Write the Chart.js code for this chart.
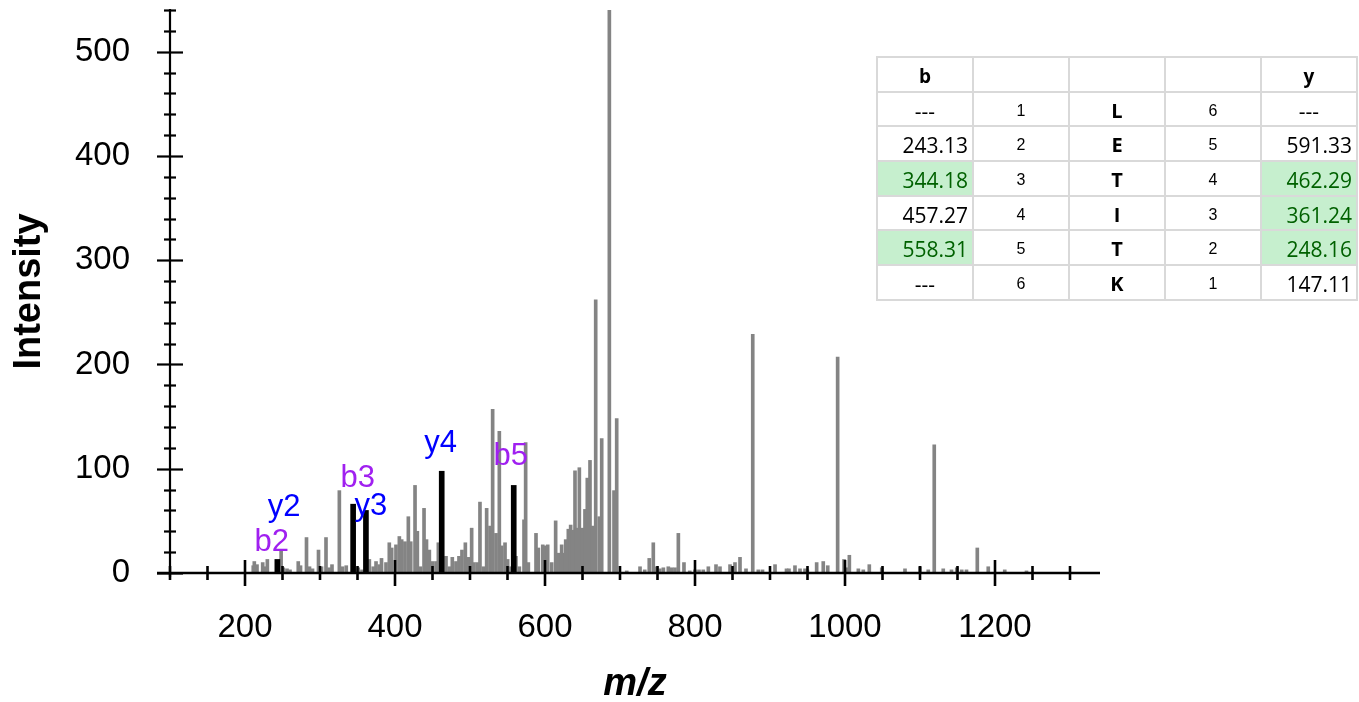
<!DOCTYPE html>
<html>
<head>
<meta charset="utf-8">
<title>LETITK MS/MS spectrum</title>
<script src="https://cdn.jsdelivr.net/npm/chart.js@4.4.1/dist/chart.umd.min.js"></script>
<style>
  html, body { margin: 0; padding: 0; background: #fff; }
  #wrap { position: relative; width: 1359px; height: 702px; overflow: hidden; }
  #spectrum { position: absolute; left: 0; top: 0; }
  #ionTable {
    position: absolute; left: 876px; top: 56px;
    border-collapse: collapse; table-layout: fixed; width: 482px;
  }
  #ionTable td {
    border: 2px solid #d9d9d9; height: 29.7px; padding: 3px 4px 0 4px;
    font-family: "Open Sans", "Noto Sans", sans-serif; font-size: 21px; line-height: 26px; color: #000;
    text-align: center; vertical-align: middle; overflow: hidden; white-space: nowrap;
  }
  #ionTable td.num { text-align: right; }
  #ionTable td.idx { font-family: "Liberation Sans", Arial, sans-serif; font-size: 16px; }
  #ionTable td.res { font-weight: bold; font-size: 20px; }
  #ionTable td.head { font-weight: bold; font-size: 19px; }
  #ionTable td.hit { background: #c6efce; color: #006100; }
</style>
</head>
<body>
<div id="wrap">
  <canvas id="spectrum" width="1359" height="702"></canvas>
  <table id="ionTable"></table>
</div>
<script>
// ---- peptide and fragment ions ----
const sequence = ['L', 'E', 'T', 'I', 'T', 'K'];
const bIonMz = [null, 243.13, 344.18, 457.27, 558.31, null];
const yIonMz = [null, 591.33, 462.29, 361.24, 248.16, 147.11];
const bMatched = [false, false, true, false, true, false];
const yMatched = [false, false, true, true, true, false];

// ---- spectrum peaks (m/z, intensity) ----
const peakMz = [
  211, 212.4, 216, 223.6, 226, 229.8, 248.16, 251, 256, 260, 271, 274, 282, 286, 290, 298, 302, 308, 312, 316,
  325.8, 330, 335, 351, 356, 365.8, 371, 374.7, 379, 382, 388, 392.4, 395.6, 401.3, 405.8, 408.9, 413.3, 417.8,
  421, 426.7, 429.8, 434, 438.7, 442, 445.8, 450, 454.7, 457.8, 468, 472.4, 476.4, 481.3, 485.3, 489.3, 493.8,
  497.8, 502.2, 505.3, 509.8, 513.3, 517.8, 522.2, 526.7, 530.2, 534.7, 539.1, 542.2, 546.7, 550.2, 553.3,
  561.3, 565.8, 572, 574.2, 577.8, 588, 591.1, 597, 600, 603.6, 608.9, 614.2, 617.8, 622.2, 624.4, 627.6,
  631.1, 634.2, 636.9, 640, 642.2, 645.8, 650.2, 653.3, 656.4, 660, 663.6, 667.6, 672.4, 675.6, 685.8, 692,
  695.6, 709, 726.7, 733, 739, 744.4, 749, 753, 757.8, 764.4, 768.9, 773.3, 777.8, 785.3, 793, 800, 805.3,
  811, 817.8, 828, 833.3, 846.7, 853.3, 860, 868, 877, 884.4, 890, 906.7, 922, 925.3, 933.3, 940, 946.7,
  949.8, 962.2, 971, 977, 990.2, 998.7, 1002, 1005.8, 1017.8, 1024.4, 1032.4, 1049, 1080, 1100, 1111, 1119,
  1131, 1142, 1149, 1155.6, 1162, 1176.4, 1191, 1213, 1242
];
const peakIntensity = [
  7, 11, 8, 10, 6, 13, 22, 5, 4, 3, 11, 7, 34, 6, 4, 22, 6, 34, 5, 8,
  79, 6, 7, 5, 3, 13, 6, 11, 8, 14, 10, 29, 24, 27, 35, 32, 30, 54,
  30, 84, 40, 6, 62, 32, 22, 11, 11, 29, 16, 6, 15, 11, 16, 22, 29,
  15, 43, 10, 10, 68, 6, 62, 45, 157, 38, 136, 26, 29, 13, 6,
  16, 6, 51, 125, 10, 38, 24, 27, 26, 27, 10, 50, 19, 27, 19, 32,
  42, 46, 41, 98, 43, 101, 43, 61, 91, 108, 45, 262, 54, 129, 540, 79,
  148, 2, 6, 3, 14, 29, 6, 4, 5, 6, 5, 5, 38, 10, 2, 3, 3,
  3, 6, 8, 6, 8, 10, 15, 4, 229, 3, 3, 8, 4, 4, 7, 4, 4,
  3, 10, 11, 7, 207, 13, 5, 17, 4, 3, 8, 5, 4, 6, 3, 123,
  4, 3, 5, 3, 3, 24, 6, 3, 2
];

// ---- annotated fragment peaks ----
const ionNames = ['b2', 'y2', 'b3', 'y3', 'y4', 'b5'];
const ionMz = [bIonMz[1], yIonMz[4], bIonMz[2], yIonMz[3], yIonMz[2], bIonMz[4]];
const ionIntensity = [13, 22, 66, 60, 97.6, 84];
const ionHighlighted = [true, false, true, true, true, true];

// ---- axes ----
const xTickValues = [200, 400, 600, 800, 1000, 1200];
const yTickValues = [0, 100, 200, 300, 400, 500];
const X_MIN = 100, X_MAX = 1340, Y_MAX = 540;

// label styling (pixel nudges keep the labels clear of each other)
const ionColor = { b: '#a020f0', y: '#0000ff' };
const ionLabelNudge = [[-5.5, -8], [3, -34], [4.5, -17], [5, 5], [-1, -19.5], [-3, -20]];

const FONT = '"Liberation Sans", Arial, Helvetica, sans-serif';

// ---- fragment table ----
(function buildTable() {
  const t = document.getElementById('ionTable');
  const head = t.insertRow();
  [['b', 'head'], ['', ''], ['', ''], ['', ''], ['y', 'head']].forEach(([txt, cls]) => {
    const c = head.insertCell(); c.textContent = txt; if (cls) c.className = cls;
  });
  const n = sequence.length;
  for (let i = 0; i < n; i++) {
    const r = t.insertRow();
    const cb = r.insertCell();
    cb.textContent = bIonMz[i] == null ? '---' : bIonMz[i].toFixed(2);
    cb.className = (bIonMz[i] == null ? '' : 'num') + (bMatched[i] ? ' hit' : '');
    const c1 = r.insertCell(); c1.textContent = String(i + 1); c1.className = 'idx';
    const c2 = r.insertCell(); c2.textContent = sequence[i]; c2.className = 'res';
    const c3 = r.insertCell(); c3.textContent = String(n - i); c3.className = 'idx';
    const cy = r.insertCell();
    cy.textContent = yIonMz[i] == null ? '---' : yIonMz[i].toFixed(2);
    cy.className = (yIonMz[i] == null ? '' : 'num') + (yMatched[i] ? ' hit' : '');
  }
})();

// ---- axis lines with crossing major/minor ticks ----
const crossAxes = {
  id: 'crossAxes',
  afterDatasetsDraw(chart) {
    const { ctx, chartArea, scales: { x, y } } = chart;
    const ax = x.getPixelForValue(X_MIN);
    const ay = y.getPixelForValue(0);
    ctx.save();
    ctx.strokeStyle = '#000';
    ctx.lineCap = 'butt';
    // y axis
    ctx.lineWidth = 2.2;
    ctx.beginPath();
    ctx.moveTo(ax, y.getPixelForValue(Y_MAX) - 1);
    ctx.lineTo(ax, ay + 4);
    ctx.stroke();
    for (let v = 0; v <= Y_MAX; v += 20) {
      const py = Math.round(y.getPixelForValue(v)) + 0.5;
      const len = v % 100 === 0 ? 13 : 6;
      ctx.beginPath();
      ctx.moveTo(ax - len, py);
      ctx.lineTo(ax + len, py);
      ctx.stroke();
    }
    // x axis
    ctx.lineWidth = 2.6;
    ctx.beginPath();
    ctx.moveTo(ax - 13, ay);
    ctx.lineTo(chartArea.right, ay);
    ctx.stroke();
    for (let v = X_MIN; v <= 1300; v += 50) {
      const px = x.getPixelForValue(v);
      const len = v % 200 === 0 ? 13 : 7;
      ctx.beginPath();
      ctx.moveTo(px, ay - len);
      ctx.lineTo(px, ay + len);
      ctx.stroke();
    }
    ctx.restore();
  }
};

// ---- ion labels above their peaks ----
const ionLabels = {
  id: 'ionLabels',
  afterDatasetsDraw(chart) {
    const { ctx, scales: { x, y } } = chart;
    ctx.save();
    ctx.font = '31px ' + FONT;
    ctx.textAlign = 'center';
    ctx.textBaseline = 'alphabetic';
    ionNames.forEach((name, i) => {
      const [dx, dy] = ionLabelNudge[i];
      ctx.fillStyle = ionColor[name[0]];
      ctx.fillText(name, x.getPixelForValue(ionMz[i]) + dx, y.getPixelForValue(ionIntensity[i]) + dy);
    });
    ctx.restore();
  }
};

const tickFont = { family: FONT, size: 33 };

new Chart(document.getElementById('spectrum'), {
  type: 'bar',
  data: {
    datasets: [
      {
        label: 'Peaks',
        data: peakMz.map((m, i) => ({ x: m, y: peakIntensity[i] })),
        backgroundColor: '#848484',
        barThickness: 3,
        grouped: false,
        order: 2
      },
      {
        label: 'Matched fragments',
        data: ionMz.map((m, i) => ({ x: m, y: ionIntensity[i] })).filter((d, i) => ionHighlighted[i]),
        backgroundColor: '#000000',
        barThickness: 5,
        grouped: false,
        order: 1
      }
    ]
  },
  options: {
    responsive: false,
    animation: false,
    events: [],
    layout: { padding: { top: 10, right: 259, left: 0, bottom: 0 } },
    plugins: { legend: { display: false }, tooltip: { enabled: false } },
    scales: {
      x: {
        type: 'linear', min: X_MIN, max: X_MAX, offset: false,
        grid: { display: false, drawTicks: false },
        border: { display: false },
        ticks: { font: tickFont, color: '#000', padding: 35, maxRotation: 0, autoSkip: false, callback: v => String(v) },
        afterBuildTicks: s => { s.ticks = xTickValues.map(v => ({ value: v })); },
        afterFit: s => { s.height = 129; s.paddingLeft = 0; s.paddingRight = 0; },
        title: { display: true, text: 'm/z', color: '#000', padding: { top: 0, bottom: 0 },
                 font: { family: FONT, size: 38, weight: 'bold', style: 'italic', lineHeight: 0.9 } }
      },
      y: {
        type: 'linear', min: 0, max: Y_MAX,
        grid: { display: false, drawTicks: false },
        border: { display: false },
        ticks: { font: tickFont, color: '#000', padding: 40, autoSkip: false, callback: v => String(v) },
        afterBuildTicks: s => { s.ticks = yTickValues.map(v => ({ value: v })); },
        afterFit: s => { s.width = 170; s.paddingTop = 0; s.paddingBottom = 0; },
        title: { display: true, text: 'Intensity', color: '#000', padding: { top: 11, bottom: 0 },
                 font: { family: FONT, size: 38, weight: 'bold', lineHeight: 1 } }
      }
    }
  },
  plugins: [crossAxes, ionLabels]
});
</script>
</body>
</html>
